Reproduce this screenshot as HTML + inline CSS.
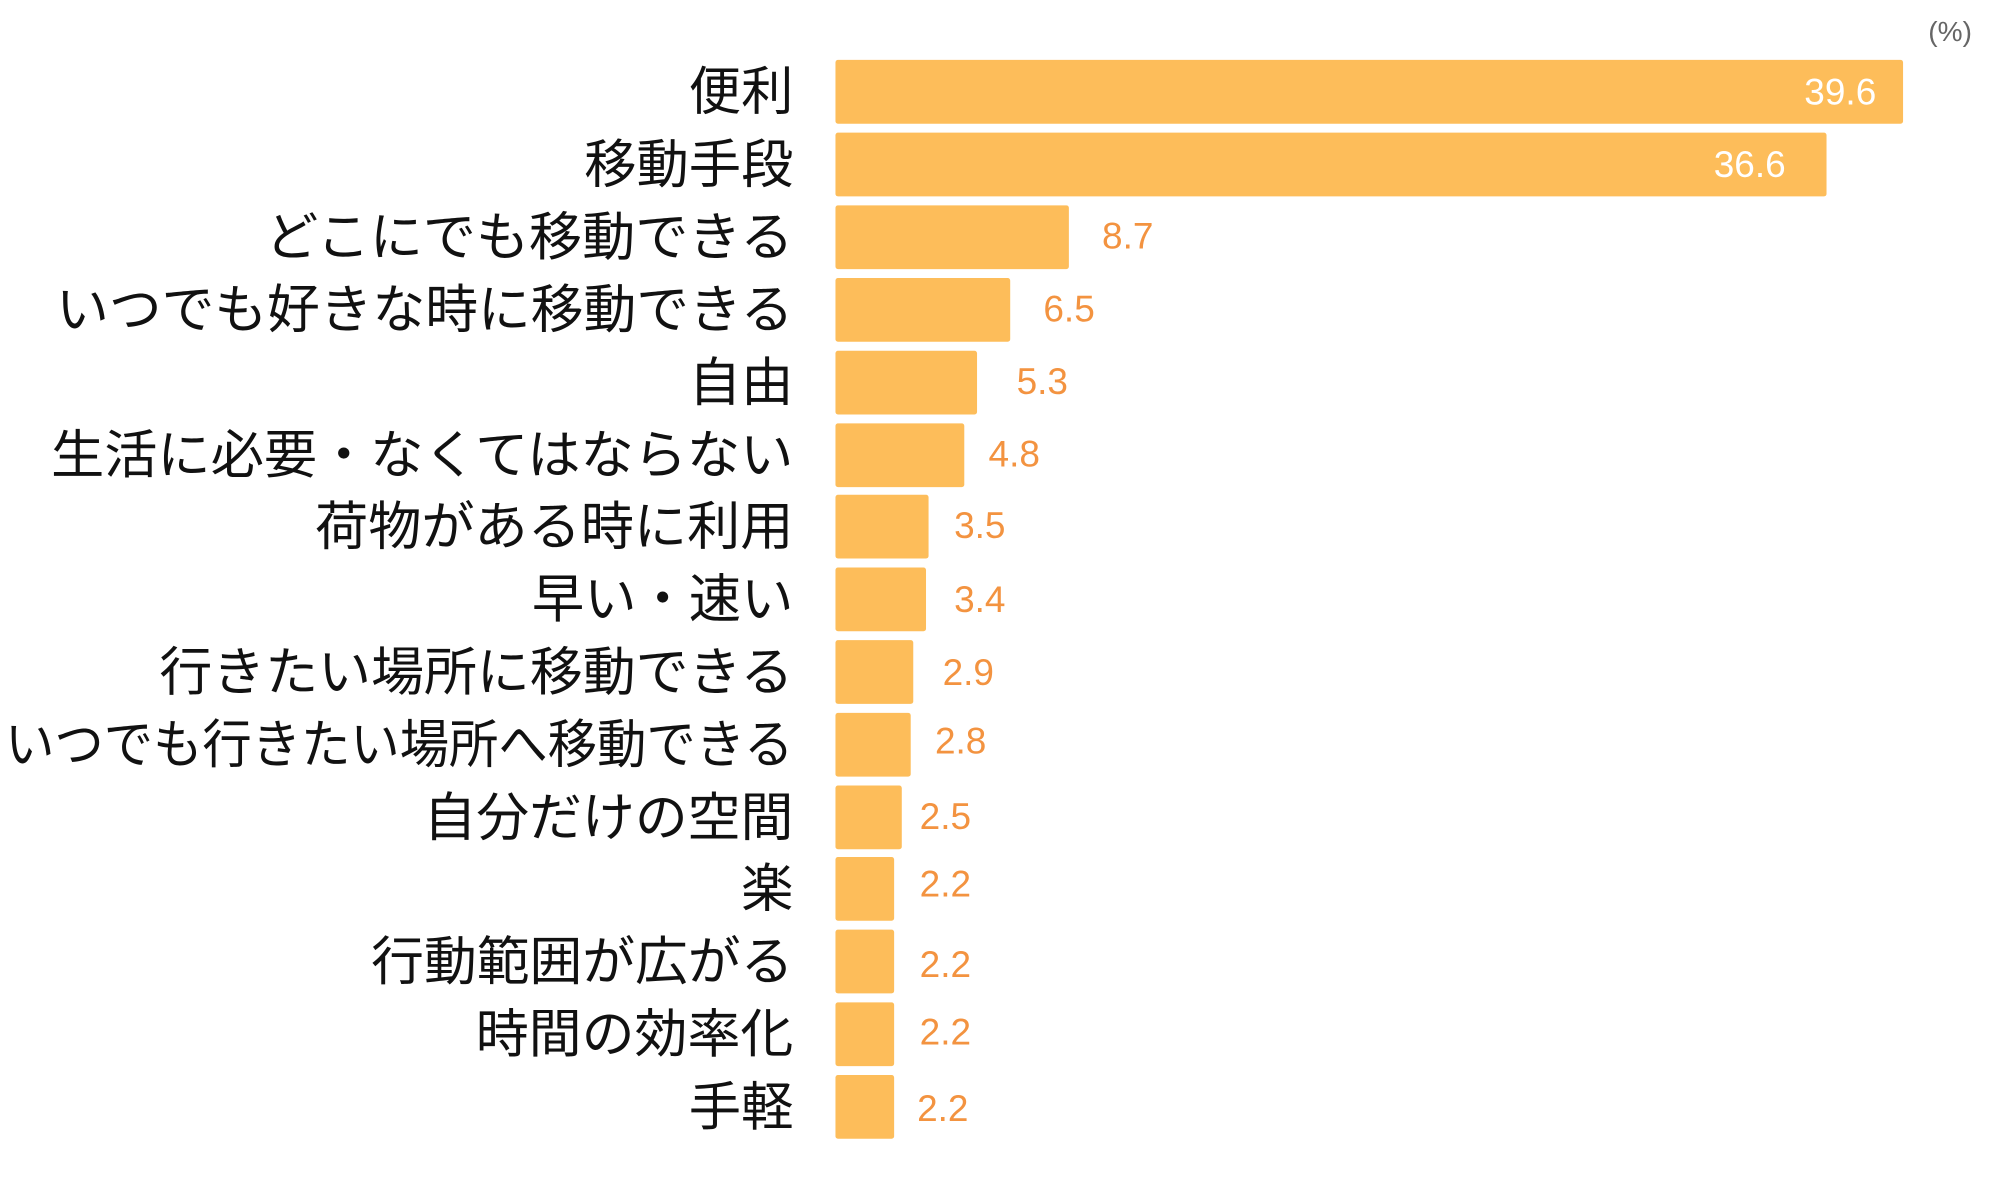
<!DOCTYPE html>
<html><head><meta charset="utf-8"><style>
html,body{margin:0;padding:0;background:#fff;}
svg{display:block;}
text{font-family:"Liberation Sans","Noto Sans CJK JP",sans-serif;}
</style></head><body>
<svg width="2000" height="1200" viewBox="0 0 1568 941" preserveAspectRatio="none" xmlns="http://www.w3.org/2000/svg">
<text x="1546" y="32" font-size="22" fill="#666" text-anchor="end">(%)</text>
<g fill="#fdbd5a">
<rect x="655" y="47" width="837" height="50" rx="2"/>
<rect x="655" y="104" width="777" height="50" rx="2"/>
<rect x="655" y="161" width="183" height="50" rx="2"/>
<rect x="655" y="218" width="137" height="50" rx="2"/>
<rect x="655" y="275" width="111" height="50" rx="2"/>
<rect x="655" y="332" width="101" height="50" rx="2"/>
<rect x="655" y="388" width="73" height="50" rx="2"/>
<rect x="655" y="445" width="71" height="50" rx="2"/>
<rect x="655" y="502" width="61" height="50" rx="2"/>
<rect x="655" y="559" width="59" height="50" rx="2"/>
<rect x="655" y="616" width="52" height="50" rx="2"/>
<rect x="655" y="672" width="46" height="50" rx="2"/>
<rect x="655" y="729" width="46" height="50" rx="2"/>
<rect x="655" y="786" width="46" height="50" rx="2"/>
<rect x="655" y="843" width="46" height="50" rx="2"/>
</g>
<g font-size="41" fill="#111" text-anchor="end">
<text x="622" y="86">便利</text>
<text x="622" y="143">移動手段</text>
<text x="622" y="200" textLength="414" lengthAdjust="spacingAndGlyphs">どこにでも移動できる</text>
<text x="622" y="257" textLength="578" lengthAdjust="spacingAndGlyphs">いつでも好きな時に移動できる</text>
<text x="622" y="314">自由</text>
<text x="622" y="371" textLength="582" lengthAdjust="spacingAndGlyphs">生活に必要・なくてはならない</text>
<text x="622" y="427" textLength="375" lengthAdjust="spacingAndGlyphs">荷物がある時に利用</text>
<text x="622" y="484">早い・速い</text>
<text x="622" y="541" textLength="497" lengthAdjust="spacingAndGlyphs">行きたい場所に移動できる</text>
<text x="622" y="598" textLength="618" lengthAdjust="spacingAndGlyphs">いつでも行きたい場所へ移動できる</text>
<text x="622" y="655" textLength="290" lengthAdjust="spacingAndGlyphs">自分だけの空間</text>
<text x="622" y="711">楽</text>
<text x="622" y="768" textLength="331" lengthAdjust="spacingAndGlyphs">行動範囲が広がる</text>
<text x="622" y="825" textLength="249" lengthAdjust="spacingAndGlyphs">時間の効率化</text>
<text x="622" y="882">手軽</text>
</g>
<g font-size="29" fill="#fff" text-anchor="end">
<text x="1471" y="82">39.6</text>
<text x="1400" y="139">36.6</text>
</g>
<g font-size="29" fill="#f39340">
<text x="864" y="195">8.7</text>
<text x="818" y="252">6.5</text>
<text x="797" y="309">5.3</text>
<text x="775" y="366">4.8</text>
<text x="748" y="422">3.5</text>
<text x="748" y="480">3.4</text>
<text x="739" y="537">2.9</text>
<text x="733" y="591">2.8</text>
<text x="721" y="650">2.5</text>
<text x="721" y="703">2.2</text>
<text x="721" y="766">2.2</text>
<text x="721" y="819">2.2</text>
<text x="719" y="879">2.2</text>
</g>
</svg>
</body></html>
